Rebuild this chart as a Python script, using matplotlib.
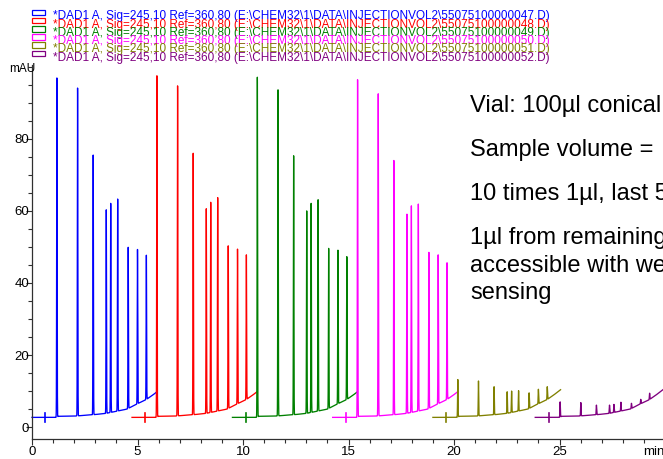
import matplotlib
matplotlib.use('Agg')
import matplotlib.pyplot as plt
import numpy as np
from matplotlib.patches import Rectangle
from matplotlib.ticker import MultipleLocator, FixedLocator

W, H = 663, 459

# Runs (six injections, overlaid with a time offset)
run_files = ['55075100000047', '55075100000048', '55075100000049',
             '55075100000050', '55075100000051', '55075100000052']
run_colors = ['#0000FF', '#FF0000', '#008000', '#FF00FF', '#808000', '#800080']
run_start = [0.0, 4.74, 9.5, 14.25, 19.0, 23.85]
run_end = [5.91, 10.65, 15.42, 20.2, 25.05, 29.9]

# Peak retention times relative to run start (min)
peak_rt = [1.18, 2.16, 2.90, 3.52, 3.73, 4.06, 4.56, 5.00, 5.42]
inject_mark = 0.63

# Apex heights (mAU) of the peaks in each run
apex_blue = [96.9, 94.1, 75.5, 60.3, 62.1, 63.3, 49.9, 49.3, 47.7]
apex_red = [97.5, 94.7, 76.0, 60.6, 62.4, 63.7, 50.3, 49.4, 47.8]
apex_green = [97.1, 93.6, 75.3, 60.0, 62.1, 63.1, 49.6, 49.1, 47.3]
apex_magenta = [96.4, 92.5, 74.0, 59.1, 61.4, 61.9, 48.5, 47.8, 45.6]
apex_olive = [13.2, 12.8, 11.2, 9.8, 10.0, 10.1, 9.5, 10.5, 11.2]
apex_purple = [7.0, 6.8, 6.1, 6.1, 6.3, 6.9, 6.6, 7.7, 9.4]
apexes = [apex_blue, apex_red, apex_green, apex_magenta, apex_olive, apex_purple]

# Baseline drift (relative time, mAU)
base_t = [0.0, 1.15, 1.25, 2.0, 3.0, 3.5, 4.0, 4.5, 5.0, 5.4, 5.7, 6.1]
base_y = [2.7, 2.7, 3.0, 3.05, 3.5, 3.8, 4.4, 5.0, 6.5, 7.6, 8.8, 10.6]

notes = ['Vial: 100µl conical', 'Sample volume = ', '10 times 1µl, last 5',
         '1µl from remaining', 'accessible with we', 'sensing']
notes_baseline_px = [112, 156, 200, 244, 272, 299]

plt.rcParams['font.family'] = ['Liberation Sans', 'DejaVu Sans']

fig = plt.figure(figsize=(W / 100, H / 100), dpi=100)
ax_left, ax_bottom = 32, 439
ax_right, ax_top = 665, 65
ax = fig.add_axes([ax_left / W, 1 - ax_bottom / H,
                   (ax_right - ax_left) / W, (ax_bottom - ax_top) / H])
ax.set_xlim(0, 30)
ax.set_ylim(-3.3, 100.5)

for files, color, t0, t1, apex in zip(run_files, run_colors, run_start, run_end, apexes):
    t = np.arange(t0, t1, 0.002)
    rel = t - t0
    sig = np.interp(rel, base_t, base_y)
    for rt, a in zip(peak_rt, apex):
        amp = a - np.interp(rt, base_t, base_y)
        sig = sig + amp * np.exp(-0.5 * ((rel - rt) / 0.011) ** 2)
    ax.plot(t, sig, color=color, lw=0.95, clip_on=False)
    # injection marker
    y0 = np.interp(inject_mark, base_t, base_y)
    ax.plot([t0 + inject_mark] * 2, [y0 - 1.3, y0 + 1.3], color=color, lw=1.2)

for s in ['top', 'right']:
    ax.spines[s].set_visible(False)
for s in ['left', 'bottom']:
    ax.spines[s].set_linewidth(0.9)
    ax.spines[s].set_color('#303030')

ax.xaxis.set_major_locator(FixedLocator([0, 5, 10, 15, 20, 25, 30]))
ax.set_xticklabels(['0', '5', '10', '15', '20', '25', 'min'])
ax.get_xticklabels()[-1].set_horizontalalignment('right')
ax.xaxis.set_minor_locator(MultipleLocator(1))
ax.yaxis.set_major_locator(FixedLocator([0, 20, 40, 60, 80]))
ax.yaxis.set_minor_locator(MultipleLocator(5))
ax.tick_params(which='both', direction='out', color='#303030', width=0.8,
               labelsize=9.5, pad=1)
ax.tick_params(which='major', length=4)
ax.tick_params(which='minor', length=3)
ax.tick_params(axis='y', pad=-2)

fig.text(9 / W, 1 - 72 / H, 'mAU', fontsize=8.5, ha='left', va='baseline')

# legend block
for i, (f, c) in enumerate(zip(run_files, run_colors)):
    top = 9.5 + 8.2 * i
    fig.add_artist(Rectangle((32 / W, 1 - (top + 5.7) / H), 13 / W, 5.7 / H,
                             transform=fig.transFigure, fill=False,
                             edgecolor=c, lw=0.9))
    fig.text(53 / W, 1 - (19.5 + 8.2 * i) / H,
             '*DAD1 A, Sig=245,10 Ref=360,80 (E:\\CHEM32\\1\\DATA\\INJECTIONVOL2\\%s.D)' % f,
             color=c, fontsize=8.45, ha='left', va='baseline')

for txt, yb in zip(notes, notes_baseline_px):
    fig.text(470 / W, 1 - yb / H, txt, fontsize=17, ha='left', va='baseline')

fig.savefig('out.png', dpi=100)
